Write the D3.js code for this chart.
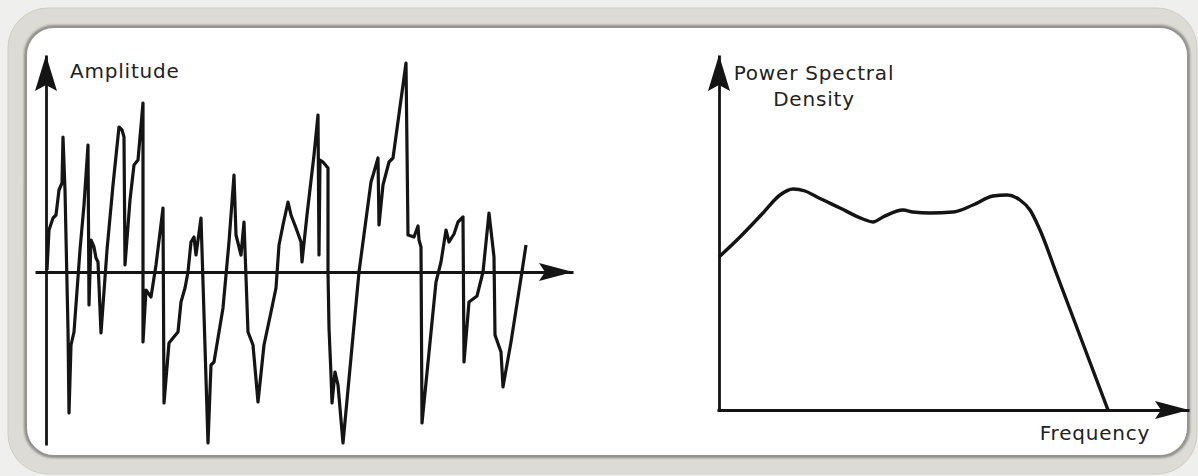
<!DOCTYPE html>
<html>
<head>
<meta charset="utf-8">
<script src="https://cdn.jsdelivr.net/npm/d3@7"></script>
<style>
  body { margin: 0; background: #efefed; }
  svg { display: block; }
  .lbl { font-family: "DejaVu Sans", sans-serif; fill: #222; letter-spacing: 0.8px; }
</style>
</head>
<body>
<div id="vis"></div>
<script>
const WIDTH = 1198;
const HEIGHT = 476;

// time signal (time, amplitude)
const SIG_TIME = [1, 3, 7, 10, 13, 16, 17, 19, 22, 23, 25, 28, 34, 38, 42, 43, 45, 48, 50, 52,
  55, 61, 67, 73, 76, 78, 79, 84, 88, 92, 97, 97, 100, 105, 110, 117, 118, 123, 127, 132,
  135, 139, 142, 145, 148, 150, 155, 162, 165, 168, 177, 183, 188, 190, 195, 198, 202, 207, 212, 218,
  225, 230, 233, 237, 242, 245, 250, 255, 256, 261, 268, 272, 273, 274, 277, 282, 282, 283, 285, 286,
  289, 292, 297, 313, 325, 328, 332, 333, 337, 343, 347, 360, 362, 368, 372, 373, 375, 376, 390, 395,
  400, 403, 408, 412, 417, 418, 423, 431, 437, 443, 448, 449, 455, 457, 465, 475, 480];
const SIG_AMP = [2, 42, 54, 57, 82, 89, 135, 82, -58, -141, -73, -60, 22, 67, 127, -33, 32, 25, 14, 10,
  -61, 22, 87, 145, 142, 135, 7, 72, 107, 112, 169, -70, -18, -25, 7, 64, -131, -71, -66, -60,
  -30, -16, 0, 30, 35, 17, 54, -171, -93, -90, -36, 30, 97, 37, 17, 50, -60, -73, -130, -73,
  -40, -16, 27, 47, 70, 57, 44, 30, 10, 57, 117, 157, 17, 112, 110, 104, 0, -56, -103, -131,
  -100, -113, -171, 0, 90, 100, 114, 47, 87, 110, 114, 209, 37, 35, 46, 32, 25, -151, -10, 10,
  42, 30, 38, 50, 55, -90, -30, -24, 0, 59, 15, -63, -80, -115, -70, -6, 27];

// power spectral density (frequency, level)
const PSD_FREQ = [0, 21, 44, 61, 74, 86, 98, 121, 144, 154, 164, 184, 194, 211, 234, 254, 274, 288, 301, 311, 321, 338, 355, 372, 389];
const PSD_LEVEL = [153, 173, 197, 215, 221, 219, 213, 202, 191, 188, 193, 200, 198, 197, 198, 205, 214, 215, 210, 200, 180, 135, 90, 45, 0];

const LABELS = { amp: "Amplitude", psd: ["Power Spectral", "Density"], freq: "Frequency" };

const svg = d3.select("#vis").append("svg")
  .attr("width", WIDTH)
  .attr("height", HEIGHT);

// frame
const defs = svg.append("defs");
defs.append("filter").attr("id", "soft")
  .append("feGaussianBlur").attr("stdDeviation", 1.2);

svg.append("rect")
  .attr("x", 8).attr("y", 8)
  .attr("width", 1189).attr("height", 466)
  .attr("rx", 40)
  .attr("fill", "#dcdbd5")
  .attr("stroke", "#cfcdc6");
svg.append("rect")
  .attr("x", 26).attr("y", 27)
  .attr("width", 1162).attr("height", 429)
  .attr("rx", 28)
  .attr("fill", "none")
  .attr("stroke", "#8e8d88")
  .attr("stroke-width", 4)
  .attr("filter", "url(#soft)");
svg.append("rect")
  .attr("x", 27).attr("y", 28)
  .attr("width", 1160).attr("height", 427)
  .attr("rx", 27)
  .attr("fill", "#ffffff");

const INK = "#141414";

function arrowUp(g, x, y) {
  g.append("path")
    .attr("d", `M${x},${y} L${x - 11},${y + 36} L${x},${y + 30} L${x + 11},${y + 36} Z`)
    .attr("fill", INK);
}
function arrowRight(g, x, y) {
  g.append("path")
    .attr("d", `M${x},${y} L${x - 34},${y - 9} L${x - 28},${y} L${x - 34},${y + 9} Z`)
    .attr("fill", INK);
}

// ---- left: signal vs time ----
const X_SCALE = d3.scaleLinear().domain([-11, 527]).range([35, 573]);
const Y_SCALE = d3.scaleLinear().domain([-173, 217]).range([445, 55]);

const left = svg.append("g");

left.append("g")
  .attr("transform", "translate(0," + Y_SCALE(0) + ")")
  .call(d3.axisBottom(X_SCALE).tickValues([]).tickSizeOuter(0))
  .select(".domain").attr("stroke", INK).attr("stroke-width", 2.8);
left.append("g")
  .attr("transform", "translate(" + X_SCALE(0) + ",0)")
  .call(d3.axisLeft(Y_SCALE).tickValues([]).tickSizeOuter(0))
  .select(".domain").attr("stroke", INK).attr("stroke-width", 2.8);
arrowUp(left, X_SCALE(0), Y_SCALE(217));
arrowRight(left, X_SCALE(527), Y_SCALE(0));

const sigData = SIG_TIME.map((t, i) => ({ t: t, a: SIG_AMP[i] }));
left.append("path")
  .datum(sigData)
  .attr("fill", "none")
  .attr("stroke", INK)
  .attr("stroke-width", 3.2)
  .attr("stroke-linejoin", "round")
  .attr("d", d3.line().x((d) => X_SCALE(d.t)).y((d) => Y_SCALE(d.a)));

left.append("text")
  .attr("class", "lbl")
  .attr("x", 70).attr("y", 78)
  .attr("font-size", 20)
  .text(LABELS.amp);

// ---- right: PSD vs frequency ----
const F_SCALE = d3.scaleLinear().domain([-2, 470]).range([717, 1189]);
const P_SCALE = d3.scaleLinear().domain([0, 355]).range([410, 55]);

const right = svg.append("g");

right.append("g")
  .attr("transform", "translate(0," + P_SCALE(0) + ")")
  .call(d3.axisBottom(F_SCALE).tickValues([]).tickSizeOuter(0))
  .select(".domain").attr("stroke", INK).attr("stroke-width", 2.8);
right.append("g")
  .attr("transform", "translate(" + F_SCALE(0) + ",0)")
  .call(d3.axisLeft(P_SCALE).tickValues([]).tickSizeOuter(0))
  .select(".domain").attr("stroke", INK).attr("stroke-width", 2.8);
arrowUp(right, F_SCALE(0), P_SCALE(355));
arrowRight(right, F_SCALE(470), P_SCALE(0));

const psdData = PSD_FREQ.map((f, i) => ({ f: f, p: PSD_LEVEL[i] }));
right.append("path")
  .datum(psdData)
  .attr("fill", "none")
  .attr("stroke", INK)
  .attr("stroke-width", 3.4)
  .attr("stroke-linejoin", "round")
  .attr("d", d3.line().curve(d3.curveMonotoneX).x((d) => F_SCALE(d.f)).y((d) => P_SCALE(d.p)));

right.append("text")
  .attr("class", "lbl")
  .attr("x", 814).attr("y", 80)
  .attr("text-anchor", "middle")
  .attr("font-size", 20)
  .text(LABELS.psd[0]);
right.append("text")
  .attr("class", "lbl")
  .attr("x", 814).attr("y", 106)
  .attr("text-anchor", "middle")
  .attr("font-size", 20)
  .text(LABELS.psd[1]);
right.append("text")
  .attr("class", "lbl")
  .attr("x", 1095).attr("y", 440)
  .attr("text-anchor", "middle")
  .attr("font-size", 20)
  .text(LABELS.freq);
</script>
</body>
</html>
